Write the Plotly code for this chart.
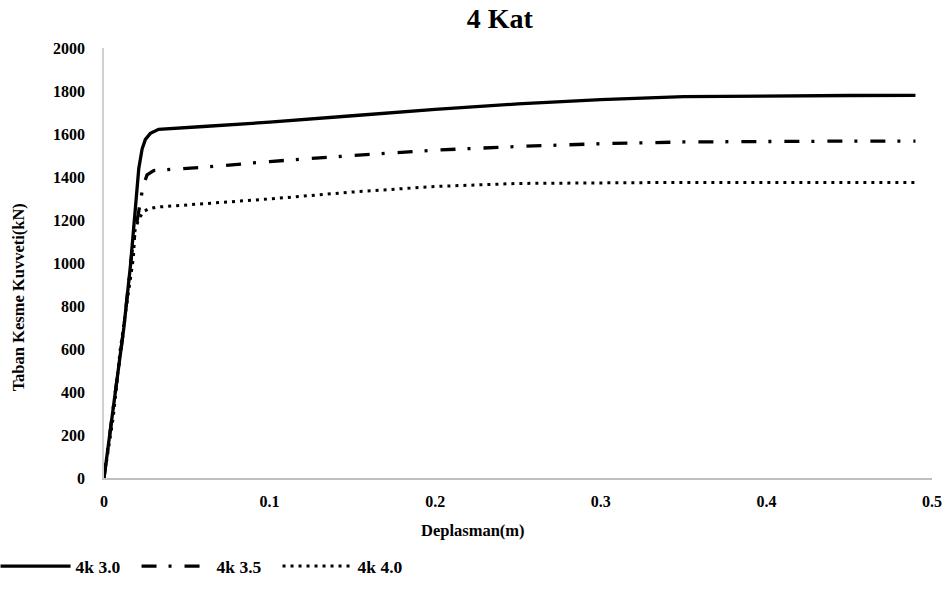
import plotly.graph_objects as go

# Data
x_30 = [0, 0.006, 0.012, 0.016, 0.019, 0.021, 0.023, 0.025, 0.028, 0.033, 0.06, 0.1, 0.15, 0.2, 0.25, 0.3, 0.35, 0.4, 0.45, 0.49]
y_30 = [0, 350, 700, 990, 1250, 1440, 1530, 1575, 1603, 1622, 1635, 1655, 1685, 1715, 1740, 1760, 1774, 1778, 1779, 1780]

x_35 = [0, 0.006, 0.012, 0.017, 0.021, 0.0235, 0.026, 0.03, 0.06, 0.1, 0.15, 0.2, 0.25, 0.3, 0.35, 0.4, 0.45, 0.49]
y_35 = [0, 340, 700, 1060, 1250, 1355, 1410, 1430, 1445, 1472, 1500, 1525, 1542, 1555, 1563, 1566, 1567, 1567]

x_40 = [0, 0.0056, 0.0097, 0.0147, 0.0177, 0.0187, 0.021, 0.024, 0.027, 0.032, 0.06, 0.1, 0.15, 0.2, 0.25, 0.3, 0.35, 0.4, 0.45, 0.49]
y_40 = [0, 282, 591, 868, 1021, 1150, 1205, 1240, 1252, 1260, 1275, 1298, 1330, 1356, 1370, 1374, 1375, 1375, 1375, 1375]

names = ["4k 3.0", "4k 3.5", "4k 4.0"]
x_ticks = [0, 0.1, 0.2, 0.3, 0.4, 0.5]
y_ticks = list(range(0, 2001, 200))
title_text = "4 Kat"
x_title = "Deplasman(m)"
y_title = "Taban Kesme Kuvveti(kN)"

font_family = "Liberation Serif, Times New Roman, serif"

fig = go.Figure()
fig.add_trace(go.Scatter(x=x_30, y=y_30, name="<b>%s</b>" % names[0], mode="lines",
                         line=dict(color="black", width=3.3)))
fig.add_trace(go.Scatter(x=x_35, y=y_35, name="<b>%s</b>" % names[1], mode="lines",
                         line=dict(color="black", width=3.3, dash="15px,12px,3px,13px")))
fig.add_trace(go.Scatter(x=x_40, y=y_40, name="<b>%s</b>" % names[2], mode="lines",
                         line=dict(color="black", width=3, dash="3px,5px")))

fig.update_layout(
    width=952, height=590,
    margin=dict(l=104, r=20, t=48, b=112, autoexpand=False),
    paper_bgcolor="white", plot_bgcolor="white",
    font=dict(family=font_family, color="black"),
    title=dict(text="<b>%s</b>" % title_text, x=0.525, xanchor="center", y=0.969, yanchor="middle",
               font=dict(size=28, family=font_family, color="black")),
    xaxis=dict(range=[0, 0.5], tickvals=x_ticks, ticktext=["<b>%g</b>" % v for v in x_ticks],
               showgrid=False, zeroline=False, showline=True, linecolor="#bfbfbf", linewidth=1.5,
               ticks="", automargin=False, ticklabelstandoff=8,
               tickfont=dict(size=16, family=font_family, color="black")),
    yaxis=dict(range=[0, 2000], tickvals=y_ticks, ticktext=["<b>%d</b>" % v for v in y_ticks],
               showgrid=False, zeroline=False, showline=True, linecolor="#d0d0d0", linewidth=1.5,
               ticks="", automargin=False, ticklabelstandoff=14,
               tickfont=dict(size=16, family=font_family, color="black")),
    legend=dict(orientation="h", x=-0.131, xanchor="left", y=-0.205, yanchor="middle",
                font=dict(size=17.5, family=font_family, color="black"), itemwidth=70,
                entrywidth=56, entrywidthmode="pixels", traceorder="normal"),
    showlegend=True,
    annotations=[
        dict(text="<b>%s</b>" % x_title, xref="paper", yref="paper", x=0.4457, y=-0.121,
             xanchor="center", yanchor="middle", showarrow=False,
             font=dict(size=16.5, family=font_family, color="black")),
        dict(text="<b>%s</b>" % y_title, xref="paper", yref="paper", x=-0.1039, y=0.42,
             xanchor="center", yanchor="middle", showarrow=False, textangle=-90,
             font=dict(size=16.5, family=font_family, color="black")),
    ],
)

fig.write_html("out.html", config={"displayModeBar": False},
               post_script="document.body.style.margin='0';document.body.style.overflow='hidden';")
